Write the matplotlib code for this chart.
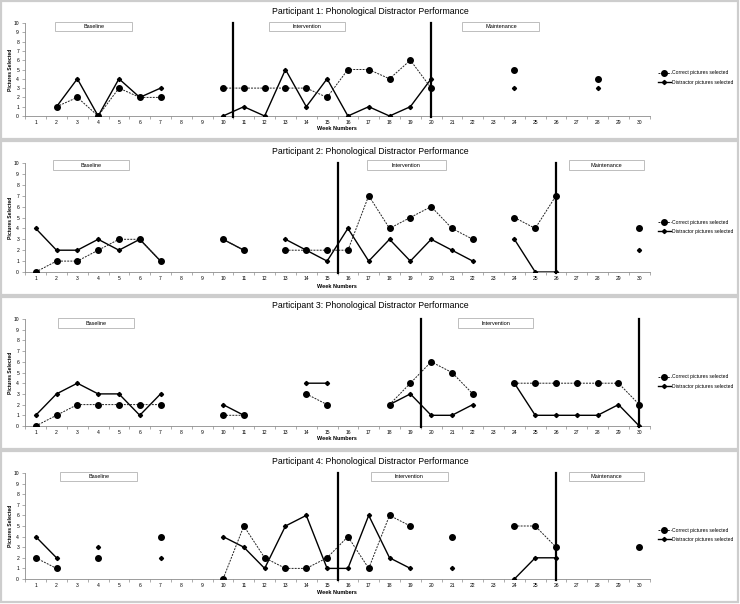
import numpy as np
import matplotlib
matplotlib.use("Agg")
import matplotlib.pyplot as plt
from matplotlib.patches import Rectangle

plt.rcParams['font.family'] = ['Liberation Sans', 'DejaVu Sans']

n = np.nan
weeks = list(range(1, 31))
week_labels = [str(w) for w in weeks]
y_ticks = list(range(0, 11))

titles = ["Participant 1: Phonological Distractor Performance",
          "Participant 2: Phonological Distractor Performance",
          "Participant 3: Phonological Distractor Performance",
          "Participant 4: Phonological Distractor Performance"]

series_names = ["Correct pictures selected", "Distractor pictures selected"]

p1_correct = [n, 1, 2, 0, 3, 2, 2, n, n, 3, 3, 3, 3, 3, 2, 5, 5, 4, 6, 3, n, n, n, 5, n, n, n, 4, n, n]
p1_distractor = [n, 1, 4, 0, 4, 2, 3, n, n, 0, 1, 0, 5, 1, 4, 0, 1, 0, 1, 4, n, n, n, 3, n, n, n, 3, n, n]

p2_correct = [0, 1, 1, 2, 3, 3, 1, n, n, 3, 2, n, 2, 2, 2, 2, 7, 4, 5, 6, 4, 3, n, 5, 4, 7, n, n, n, 4]
p2_distractor = [4, 2, 2, 3, 2, 3, 1, n, n, 3, 2, n, 3, 2, 1, 4, 1, 3, 1, 3, 2, 1, n, 3, 0, 0, n, n, n, 2]

p3_correct = [0, 1, 2, 2, 2, 2, 2, n, n, 1, 1, n, n, 3, 2, n, n, 2, 4, 6, 5, 3, n, 4, 4, 4, 4, 4, 4, 2]
p3_distractor = [1, 3, 4, 3, 3, 1, 3, n, n, 2, 1, n, n, 4, 4, n, n, 2, 3, 1, 1, 2, n, 4, 1, 1, 1, 1, 2, 0]

p4_correct = [2, 1, n, 2, n, n, 4, n, n, 0, 5, 2, 1, 1, 2, 4, 1, 6, 5, n, 4, n, n, 5, 5, 3, n, n, n, 3]
p4_distractor = [4, 2, n, 3, n, n, 2, n, n, 4, 3, 1, 5, 6, 1, 1, 6, 2, 1, n, 1, n, n, 0, 2, 2, n, n, n, n]

phase_changes = [[10.5, 20], [15.5, 26], [19.5, 30], [15.5, 26]]
phase_names = [["Baseline", "Intervention", "Maintenance"],
               ["Baseline", "Intervention", "Maintenance"],
               ["Baseline", "Intervention"],
               ["Baseline", "Intervention", "Maintenance"]]

correct_all = [p1_correct, p2_correct, p3_correct, p4_correct]
distractor_all = [p1_distractor, p2_distractor, p3_distractor, p4_distractor]

# ---------- layout (pixels of a 740x604 canvas) ----------
W, H = 740, 604
fig = plt.figure(figsize=(W / 100, H / 100), dpi=100)

def fx(px):
    return px / W

def fy(py):
    return 1 - py / H

# y pixel of value 10 and value 0 per panel
ax_y = [(23, 116), (163, 272), (319, 426), (473, 579)]
ax_x = (25.3, 649.7)
title_y = [12, 151, 306, 462]
week_y = [129, 286, 439, 593]
panel_frames = [(0.8, 139), (140.5, 295), (296.5, 449), (450.5, 602)]
phase_boxes = [[(1.93, 5.63), (12.2, 15.85), (21.5, 25.2)],
               [(1.84, 5.5), (16.9, 20.7), (26.6, 30.25)],
               [(2.07, 5.7), (21.3, 24.9)],
               [(2.17, 5.87), (17.1, 20.8), (26.6, 30.25)]]
box_y = [(9.1, 10.1), (9.35, 10.25), (9.2, 10.05), (9.25, 10.1)]

for (y0, y1) in panel_frames:
    fig.add_artist(Rectangle((fx(1.2), fy(y1)), fx(737.5 - 1.2), (y1 - y0) / H,
                             transform=fig.transFigure, fill=False,
                             ec='#cdcdcd', lw=1.6, zorder=0))

spine_col = '#8c8c8c'
for i in range(4):
    top_px, bot_px = ax_y[i]
    ax = fig.add_axes([fx(ax_x[0]), fy(bot_px), fx(ax_x[1] - ax_x[0]), (bot_px - top_px) / H])
    ax.set_xlim(0.5, 30.5)
    ax.set_ylim(0, 10)
    for s in ['top', 'right']:
        ax.spines[s].set_visible(False)
    for s in ['left', 'bottom']:
        ax.spines[s].set_color(spine_col)
        ax.spines[s].set_linewidth(0.6)
    ax.set_xticks(weeks)
    ax.set_xticklabels(week_labels, fontsize=3.6)
    ax.set_xticks(np.arange(0.5, 31, 1.0), minor=True)
    ax.tick_params(axis='x', which='major', length=0, pad=3.2)
    ax.tick_params(axis='x', which='minor', length=2, width=0.5, color=spine_col, direction='out')
    ax.set_yticks(y_ticks)
    ax.set_yticklabels([str(v) for v in y_ticks], fontsize=3.6)
    ax.tick_params(axis='y', which='major', length=2, width=0.5, color=spine_col, pad=2.5)
    ax.patch.set_alpha(0)

    l2, = ax.plot(weeks, distractor_all[i], color='black', lw=1.0, marker='D',
                  markersize=2.1, zorder=3, label=series_names[1])
    l1, = ax.plot(weeks, correct_all[i], color='#222222', lw=0.7, linestyle=(0, (2.0, 1.2)),
                  marker='o', markersize=4.0, markerfacecolor='black', markeredgecolor='black',
                  zorder=4, label=series_names[0])

    for xc in phase_changes[i]:
        ax.plot([xc, xc], [-0.1, 10], color='black', lw=1.6, zorder=5, clip_on=False)

    for (bx0, bx1), name in zip(phase_boxes[i], phase_names[i]):
        yb, yt = box_y[i]
        ax.add_patch(Rectangle((bx0, yb), bx1 - bx0, yt - yb, fill=True, fc='white',
                               ec='#bdbdbd', lw=0.7, clip_on=False, zorder=2))
        ax.text((bx0 + bx1) / 2, (yb + yt) / 2, name, fontsize=4.0, ha='center',
                va='center', zorder=3)

    leg = ax.legend(handles=[l1, l2], loc='center left', bbox_to_anchor=(1.013, 0.415),
                    frameon=False, fontsize=3.6, handlelength=2.6, handletextpad=0.15,
                    labelspacing=0.85, borderpad=0, borderaxespad=0)

    fig.text(fx(370), fy(title_y[i]), titles[i], fontsize=6.3, ha='center', va='center')
    fig.text(fx(11), fy((top_px + bot_px) / 2), "Pictures Selected", fontsize=3.6,
             fontweight='bold', rotation=90, ha='center', va='center')
    fig.text(fx(337), fy(week_y[i]), "Week Numbers", fontsize=4.0, fontweight='bold',
             ha='center', va='center')

fig.savefig("out.png", dpi=100)
